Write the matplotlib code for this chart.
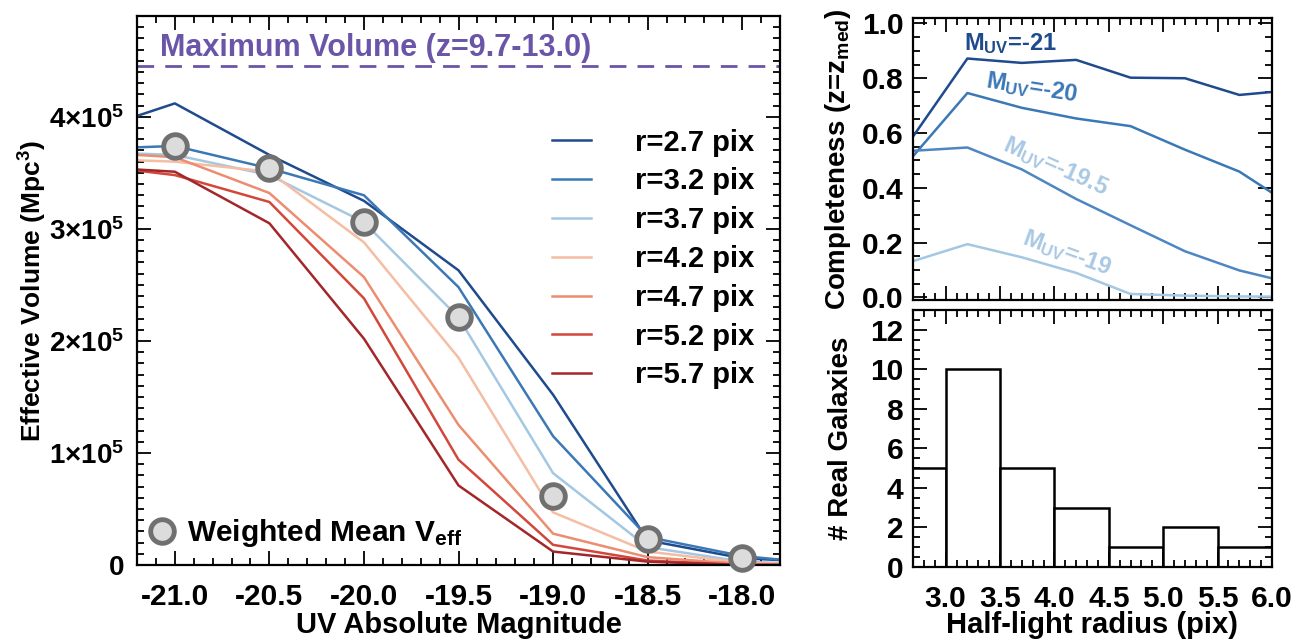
import numpy as np
import matplotlib
matplotlib.use("Agg")
import matplotlib.pyplot as plt
from matplotlib.ticker import MultipleLocator, FixedLocator
from matplotlib.lines import Line2D

plt.rcParams['font.family'] = ['Liberation Sans', 'DejaVu Sans']
plt.rcParams['font.weight'] = 'bold'
plt.rcParams['mathtext.fontset'] = 'custom'
plt.rcParams['mathtext.rm'] = 'Liberation Sans:bold'
plt.rcParams['mathtext.bf'] = 'Liberation Sans:bold'
plt.rcParams['mathtext.it'] = 'Liberation Sans:bold'
plt.rcParams['mathtext.default'] = 'bf'

# ---------------- data ----------------
mags = [-21.5, -21.0, -20.5, -20.0, -19.5, -19.0, -18.5, -18.0, -17.5]
radii_labels = ['r=2.7 pix', 'r=3.2 pix', 'r=3.7 pix', 'r=4.2 pix',
                'r=4.7 pix', 'r=5.2 pix', 'r=5.7 pix']
veff_r27 = [3.84, 4.12, 3.66, 3.25, 2.63, 1.52, 0.22, 0.06, 0.02]
veff_r32 = [3.71, 3.74, 3.54, 3.30, 2.48, 1.15, 0.25, 0.08, 0.00]
veff_r37 = [3.69, 3.66, 3.48, 3.06, 2.21, 0.82, 0.16, 0.03, 0.00]
veff_r42 = [3.63, 3.60, 3.51, 2.88, 1.85, 0.47, 0.12, 0.02, 0.00]
veff_r47 = [3.69, 3.64, 3.32, 2.57, 1.25, 0.28, 0.07, 0.01, 0.00]
veff_r52 = [3.58, 3.48, 3.24, 2.38, 0.94, 0.18, 0.04, 0.00, 0.00]
veff_r57 = [3.56, 3.51, 3.05, 2.02, 0.71, 0.12, 0.03, 0.00, 0.00]
veff_scale = 1e5

wmean_mags = [-21.0, -20.5, -20.0, -19.5, -19.0, -18.5, -18.0]
wmean_veff = [3.74, 3.54, 3.06, 2.21, 0.62, 0.23, 0.06]

max_volume = 4.45e5
max_volume_label = 'Maximum Volume (z=9.7-13.0)'

veff_yticks = [0, 1e5, 2e5, 3e5, 4e5]
veff_yticklabels = ['0', r'$1{\times}10^5$', r'$2{\times}10^5$',
                    r'$3{\times}10^5$', r'$4{\times}10^5$']
mag_xticks = [-21.0, -20.5, -20.0, -19.5, -19.0, -18.5, -18.0]

# completeness vs half-light radius
comp_radius = [2.7, 3.2, 3.7, 4.2, 4.7, 5.2, 5.7, 6.2]
comp_m21 = [0.587, 0.872, 0.856, 0.867, 0.802, 0.800, 0.739, 0.757]
comp_m20 = [0.515, 0.746, 0.692, 0.653, 0.625, 0.539, 0.459, 0.33]
comp_m195 = [0.535, 0.547, 0.467, 0.359, 0.263, 0.168, 0.098, 0.05]
comp_m19 = [0.132, 0.194, 0.146, 0.089, 0.012, 0.006, 0.003, 0.002]

# histogram of real galaxies
hist_left_edges = [2.5, 3.0, 3.5, 4.0, 4.5, 5.0, 5.5]
hist_counts = [5, 10, 5, 3, 1, 2, 1]
hist_binwidth = 0.5

# ---------------- styling ----------------
line_colors = ['#1f4b8e', '#3b78b6', '#a4c7e2', '#f5bda3',
               '#ec8d70', '#d3473b', '#a3262a']
purple = '#6b55a8'
FS = 20
TFS = 21.5

W, H = 1302, 641
fig = plt.figure(figsize=(W / 100, H / 100), dpi=100)


def px_axes(x0, y0, x1, y1):
    return fig.add_axes([x0 / W, 1 - y1 / H, (x1 - x0) / W, (y1 - y0) / H])


def style_axes(ax):
    for s in ax.spines.values():
        s.set_linewidth(1.6)
    ax.tick_params(which='both', direction='in', top=True, right=True,
                   width=1.3, labelsize=TFS)
    ax.tick_params(which='major', length=10)
    ax.tick_params(which='minor', length=5)


# ---------------- left panel ----------------
ax = px_axes(137, 16, 780, 565)
series = [veff_r27, veff_r32, veff_r37, veff_r42, veff_r47, veff_r52, veff_r57]
handles = []
for vals, col, lab in zip(series, line_colors, radii_labels):
    h, = ax.plot(mags, np.array(vals) * veff_scale, color=col, lw=1.8, label=lab)
    handles.append(h)

ax.axhline(max_volume, color=purple, lw=2, ls=(0, (6, 4)))
ax.text(-21.08, 4.61e5, max_volume_label, color=purple, fontsize=22,
        fontweight='bold', va='center', ha='left')

ax.plot(wmean_mags, np.array(wmean_veff) * veff_scale, ls='none', marker='o',
        ms=17, mfc='#dcdcdc', mec='#707070', mew=3.5, zorder=5, clip_on=False)

ax.set_xlim(-21.2, -17.8)
ax.set_ylim(0, 4.9e5)
ax.xaxis.set_major_locator(FixedLocator(mag_xticks))
ax.set_xticklabels(['%.1f' % m for m in mag_xticks])
ax.xaxis.set_minor_locator(MultipleLocator(0.1))
ax.yaxis.set_major_locator(FixedLocator(veff_yticks))
ax.set_yticklabels(veff_yticklabels)
ax.yaxis.set_minor_locator(MultipleLocator(1e4))
style_axes(ax)
ax.tick_params(axis='x', pad=13)
ax.tick_params(axis='y', pad=9, labelsize=20)
ax.set_xlabel('UV Absolute Magnitude', fontsize=21, fontweight='bold')
ax.xaxis.set_label_coords(0.5, -0.084)
ax.set_ylabel(r'Effective Volume (Mpc$^3$)', fontsize=19, fontweight='bold')
ax.yaxis.set_label_coords(-0.137, 0.5)

leg1 = ax.legend(handles=handles, loc='upper left', bbox_to_anchor=(0.645, 0.795),
                 frameon=False, fontsize=21, handlelength=1.35, handletextpad=1.5,
                 labelspacing=0.37, borderpad=0, borderaxespad=0)
ax.add_artist(leg1)
circ = Line2D([], [], ls='none', marker='o', ms=17, mfc='#dcdcdc',
              mec='#707070', mew=3.5)
ax.legend(handles=[circ], labels=[r'Weighted Mean V$_{\mathrm{eff}}$'],
          loc='lower left', bbox_to_anchor=(0.006, 0.012), frameon=False,
          fontsize=21.5, handlelength=0.8, handletextpad=0.45, borderpad=0.3,
          borderaxespad=0)

# ---------------- right top: completeness ----------------
ax2 = px_axes(913, 18, 1272, 300)
comp_series = [comp_m21, comp_m20, comp_m195, comp_m19]
comp_line_colors = ['#1f4b8e', '#3b78b6', '#4d86c2', '#a4c7e2']
for vals, col in zip(comp_series, comp_line_colors):
    ax2.plot(comp_radius, vals, color=col, lw=1.8)
ax2.text(3.6, 0.926, r'M$_{\mathrm{UV}}$=-21', color='#1f4b8e', fontsize=17,
         ha='center', va='center')
ax2.text(3.79, 0.764, r'M$_{\mathrm{UV}}$=-20', color='#3b78b6', fontsize=17,
         ha='center', va='center', rotation=-9)
ax2.text(4.01, 0.476, r'M$_{\mathrm{UV}}$=-19.5', color='#a9c8e4', fontsize=17,
         ha='center', va='center', rotation=-24)
ax2.text(4.11, 0.162, r'M$_{\mathrm{UV}}$=-19', color='#a9c8e4', fontsize=17,
         ha='center', va='center', rotation=-20)
ax2.set_xlim(2.7, 6.0)
ax2.set_ylim(-0.01, 1.02)
ax2.xaxis.set_major_locator(MultipleLocator(0.5))
ax2.xaxis.set_minor_locator(MultipleLocator(0.1))
ax2.yaxis.set_major_locator(MultipleLocator(0.2))
ax2.yaxis.set_minor_locator(MultipleLocator(0.05))
ax2.yaxis.set_major_formatter(plt.FuncFormatter(lambda v, p: '%.1f' % v))
style_axes(ax2)
ax2.tick_params(axis='x', labelbottom=False)
ax2.tick_params(axis='y', pad=7)
ax2.set_ylabel(r'Completeness (z=z$_{\mathrm{med}}$)', fontsize=FS,
               fontweight='bold')
ax2.yaxis.set_label_coords(-0.168, 0.5)

# ---------------- right bottom: histogram ----------------
ax3 = px_axes(913, 310, 1272, 567)
ax3.bar(hist_left_edges, hist_counts, width=hist_binwidth, align='edge',
        facecolor='white', edgecolor='black', linewidth=1.8)
ax3.set_xlim(2.7, 6.0)
ax3.set_ylim(0, 13)
ax3.xaxis.set_major_locator(MultipleLocator(0.5))
ax3.xaxis.set_minor_locator(MultipleLocator(0.1))
ax3.xaxis.set_major_formatter(plt.FuncFormatter(lambda v, p: '%.1f' % v))
ax3.yaxis.set_major_locator(MultipleLocator(2))
ax3.yaxis.set_minor_locator(MultipleLocator(0.5))
style_axes(ax3)
ax3.tick_params(axis='x', pad=13)
ax3.tick_params(axis='y', pad=7)
ax3.set_xlabel('Half-light radius (pix)', fontsize=21, fontweight='bold')
ax3.xaxis.set_label_coords(0.5, -0.172)
ax3.set_ylabel('# Real Galaxies', fontsize=FS, fontweight='bold')
ax3.yaxis.set_label_coords(-0.163, 0.5)

fig.savefig('out.png', dpi=100)
